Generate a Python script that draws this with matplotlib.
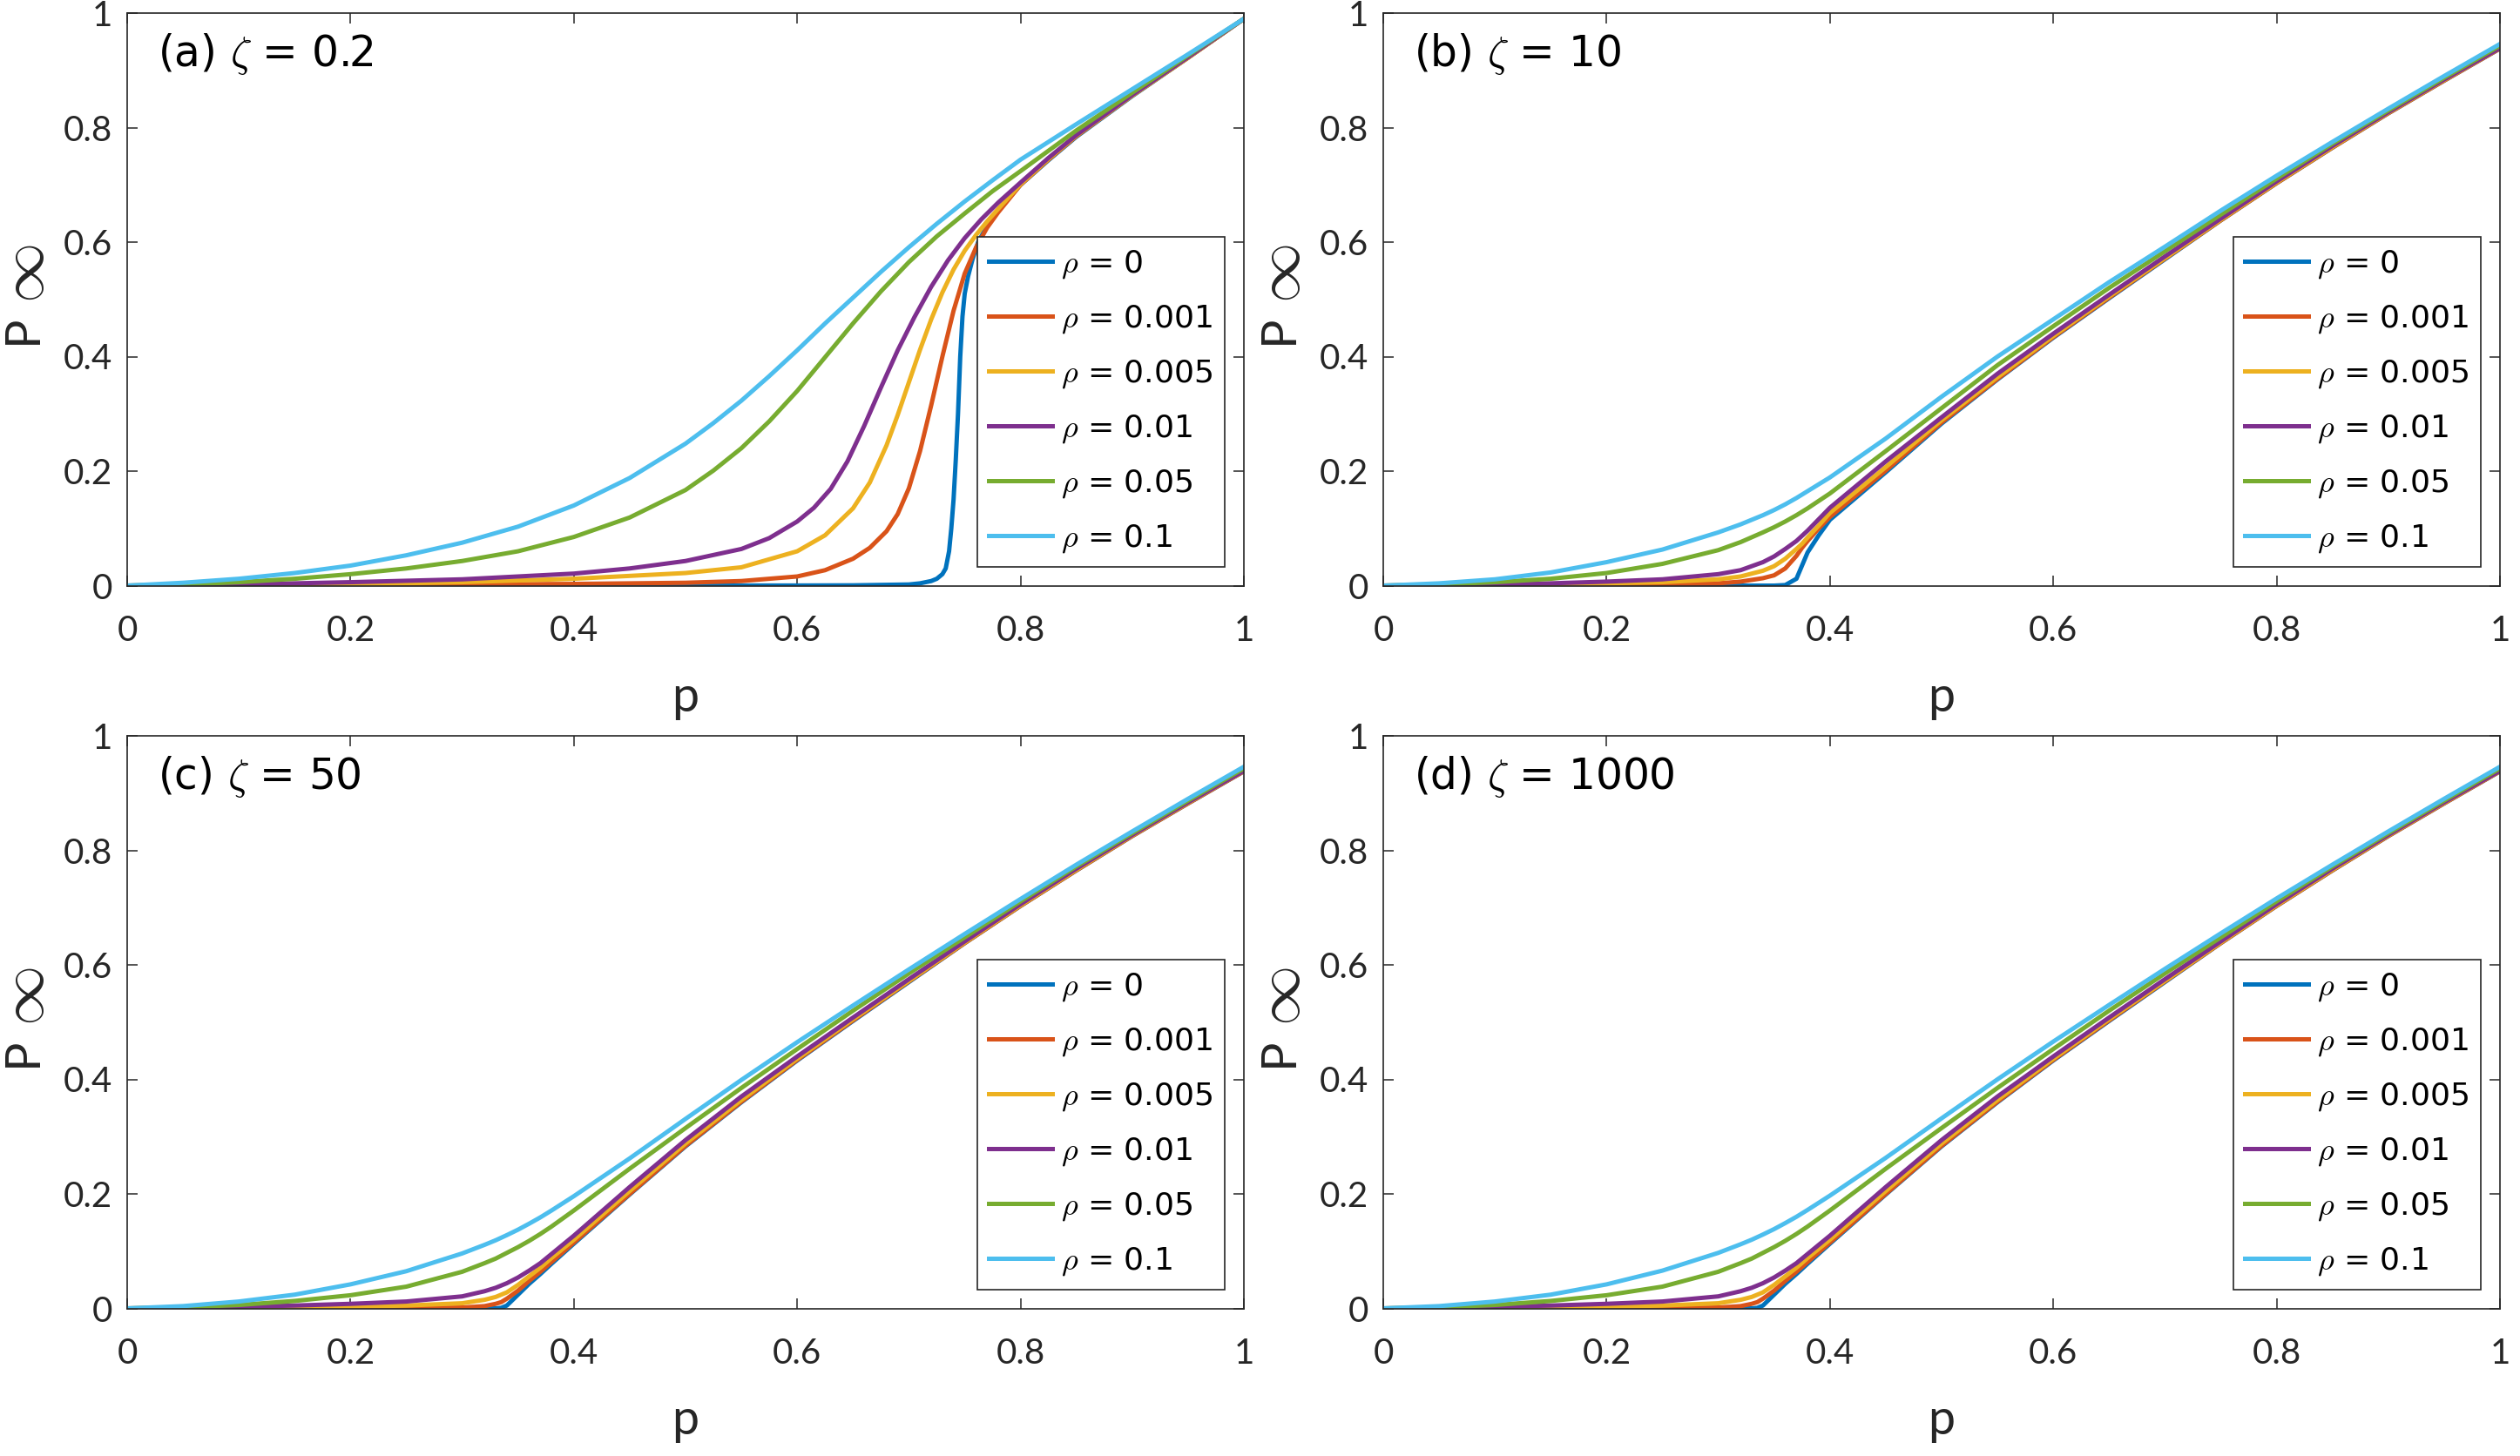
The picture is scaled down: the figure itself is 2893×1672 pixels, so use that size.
import numpy as np
import matplotlib
matplotlib.use("Agg")
import matplotlib.pyplot as plt

plt.rcParams['font.family'] = ['Lato', 'DejaVu Sans']
plt.rcParams['mathtext.fontset'] = 'cm'

# ---------------- data ----------------
SERIES_LABELS = [r'$\rho$ = 0', r'$\rho$ = 0.001', r'$\rho$ = 0.005',
                 r'$\rho$ = 0.01', r'$\rho$ = 0.05', r'$\rho$ = 0.1']
COLORS = ['#0072BD', '#D95319', '#EDB120', '#7E2F8E', '#77AC30', '#4DBEEE']
PANEL_TITLES = [r'(a) $\zeta$ = 0.2', r'(b) $\zeta$ = 10',
                r'(c) $\zeta$ = 50', r'(d) $\zeta$ = 1000']
TICKS = [0, 0.2, 0.4, 0.6, 0.8, 1]
TICK_LABELS = ['0', '0.2', '0.4', '0.6', '0.8', '1']

# panel (a) zeta = 0.2 : each curve has its own p samples
A_P_RHO0 = [0, 0.2, 0.4, 0.6, 0.65, 0.7, 0.71, 0.72, 0.725, 0.73, 0.733, 0.736, 0.738, 0.74,
            0.742, 0.744, 0.746, 0.748, 0.75, 0.753, 0.757, 0.762, 0.77, 0.78, 0.79, 0.8,
            0.825, 0.85, 0.9, 0.95, 1.0]
A_V_RHO0 = [0, 0, 0, 0.0002, 0.0005, 0.002, 0.004, 0.008, 0.012, 0.02, 0.03, 0.06, 0.10, 0.15,
            0.22, 0.30, 0.40, 0.47, 0.51, 0.54, 0.57, 0.60, 0.628, 0.655, 0.678, 0.700,
            0.743, 0.784, 0.855, 0.922, 0.99]
A_P_RHO0001 = [0, 0.2, 0.4, 0.5, 0.55, 0.6, 0.625, 0.65, 0.665, 0.68, 0.69, 0.7, 0.71, 0.72,
               0.73, 0.74, 0.75, 0.76, 0.77, 0.78, 0.8, 0.825, 0.85, 0.9, 0.95, 1.0]
A_V_RHO0001 = [0, 0.0008, 0.003, 0.005, 0.008, 0.016, 0.027, 0.047, 0.066, 0.095, 0.125, 0.17, 0.235, 0.315,
               0.40, 0.48, 0.545, 0.59, 0.625, 0.652, 0.700, 0.744, 0.785, 0.856, 0.922, 0.99]
A_P_RHO0005 = [0, 0.1, 0.2, 0.3, 0.4, 0.5, 0.55, 0.6, 0.625, 0.65, 0.665, 0.68, 0.69, 0.7,
               0.71, 0.72, 0.73, 0.74, 0.75, 0.76, 0.77, 0.78, 0.8, 0.825, 0.85, 0.9, 0.95, 1.0]
A_V_RHO0005 = [0, 0.0008, 0.0025, 0.006, 0.012, 0.022, 0.032, 0.06, 0.088, 0.135, 0.18, 0.245, 0.298, 0.355,
               0.412, 0.465, 0.512, 0.552, 0.585, 0.612, 0.636, 0.658, 0.701, 0.745, 0.786, 0.856, 0.922, 0.99]
A_P_RHO001 = [0, 0.1, 0.2, 0.3, 0.4, 0.45, 0.5, 0.55, 0.575, 0.6, 0.615, 0.63, 0.645, 0.66,
              0.675, 0.69, 0.705, 0.72, 0.735, 0.75, 0.765, 0.78, 0.8, 0.825, 0.85, 0.9, 0.95, 1.0]
A_V_RHO001 = [0, 0.002, 0.006, 0.011, 0.021, 0.03, 0.043, 0.064, 0.083, 0.112, 0.136, 0.169, 0.217, 0.279,
              0.346, 0.411, 0.469, 0.522, 0.568, 0.607, 0.64, 0.669, 0.704, 0.747, 0.787, 0.857, 0.923, 0.99]
A_P_RHO005 = [0, 0.05, 0.1, 0.15, 0.2, 0.25, 0.3, 0.35, 0.4, 0.45, 0.5, 0.525, 0.55, 0.575,
              0.6, 0.625, 0.65, 0.675, 0.7, 0.725, 0.75, 0.775, 0.8, 0.85, 0.9, 0.95, 1.0]
A_V_RHO005 = [0, 0.002, 0.006, 0.012, 0.02, 0.03, 0.043, 0.06, 0.085, 0.119, 0.167, 0.201, 0.24, 0.287,
              0.34, 0.399, 0.458, 0.514, 0.565, 0.61, 0.65, 0.689, 0.724, 0.795, 0.861, 0.926, 0.99]
A_P_RHO01 = [0, 0.05, 0.1, 0.15, 0.2, 0.25, 0.3, 0.35, 0.4, 0.45, 0.5, 0.525, 0.55, 0.575,
             0.6, 0.625, 0.65, 0.675, 0.7, 0.725, 0.75, 0.775, 0.8, 0.85, 0.9, 0.95, 1.0]
A_V_RHO01 = [0, 0.005, 0.012, 0.022, 0.035, 0.053, 0.075, 0.103, 0.14, 0.188, 0.248, 0.284, 0.323, 0.366,
             0.411, 0.458, 0.503, 0.548, 0.591, 0.632, 0.671, 0.708, 0.744, 0.806, 0.867, 0.928, 0.99]

# panel (b) zeta = 10
P_B = [0, 0.05, 0.1, 0.15, 0.2, 0.25, 0.3, 0.32, 0.34, 0.35, 0.36, 0.37, 0.375, 0.38,
       0.39, 0.4, 0.45, 0.5, 0.55, 0.6, 0.65, 0.7, 0.75, 0.8, 0.85, 0.9, 0.95, 1.0]
B_RHO0 = [0, 0, 0, 0, 0, 0, 0, 0, 0, 0, 0.001, 0.012, 0.035, 0.058,
          0.088, 0.115, 0.198, 0.283, 0.36, 0.433, 0.502, 0.57, 0.638, 0.703, 0.765, 0.825, 0.882, 0.938]
B_RHO0001 = [0, 0.0002, 0.0004, 0.0007, 0.001, 0.002, 0.004, 0.007, 0.013, 0.018, 0.03, 0.052, 0.066, 0.078,
             0.10, 0.12, 0.201, 0.285, 0.361, 0.434, 0.503, 0.571, 0.638, 0.703, 0.765, 0.825, 0.882, 0.938]
B_RHO0005 = [0, 0.0005, 0.001, 0.002, 0.004, 0.006, 0.011, 0.016, 0.026, 0.034, 0.047, 0.064, 0.073, 0.084,
             0.105, 0.127, 0.207, 0.289, 0.364, 0.436, 0.505, 0.572, 0.639, 0.704, 0.766, 0.826, 0.883, 0.939]
B_RHO001 = [0, 0.001, 0.002, 0.004, 0.007, 0.011, 0.02, 0.027, 0.041, 0.051, 0.064, 0.078, 0.087, 0.096,
            0.116, 0.136, 0.217, 0.294, 0.37, 0.44, 0.508, 0.575, 0.641, 0.706, 0.768, 0.827, 0.884, 0.939]
B_RHO005 = [0, 0.002, 0.006, 0.012, 0.022, 0.038, 0.062, 0.076, 0.093, 0.102, 0.112, 0.123, 0.129, 0.135,
            0.148, 0.161, 0.235, 0.31, 0.385, 0.453, 0.52, 0.584, 0.648, 0.711, 0.772, 0.83, 0.887, 0.943]
B_RHO01 = [0, 0.004, 0.011, 0.023, 0.041, 0.063, 0.093, 0.107, 0.123, 0.132, 0.142, 0.153, 0.159, 0.165,
           0.177, 0.189, 0.257, 0.33, 0.40, 0.465, 0.53, 0.592, 0.655, 0.716, 0.775, 0.833, 0.89, 0.946]

# panel (c) zeta = 50
P_C = [0, 0.05, 0.1, 0.15, 0.2, 0.25, 0.3, 0.32, 0.33, 0.335, 0.34, 0.35, 0.36, 0.37,
       0.38, 0.4, 0.45, 0.5, 0.55, 0.6, 0.65, 0.7, 0.75, 0.8, 0.85, 0.9, 0.95, 1.0]
C_RHO0 = [0, 0, 0, 0, 0, 0, 0, 0, 0, 0.001, 0.005, 0.024, 0.043, 0.06,
          0.078, 0.113, 0.199, 0.283, 0.36, 0.433, 0.502, 0.57, 0.638, 0.703, 0.765, 0.825, 0.882, 0.938]
C_RHO0001 = [0, 0.0001, 0.0002, 0.0004, 0.0006, 0.0008, 0.0015, 0.004, 0.008, 0.011, 0.017, 0.031, 0.048, 0.064,
             0.081, 0.115, 0.20, 0.284, 0.361, 0.434, 0.503, 0.571, 0.638, 0.703, 0.765, 0.825, 0.882, 0.938]
C_RHO0005 = [0, 0.0005, 0.001, 0.002, 0.003, 0.005, 0.009, 0.015, 0.02, 0.024, 0.028, 0.041, 0.056, 0.071,
             0.088, 0.12, 0.205, 0.288, 0.364, 0.436, 0.505, 0.572, 0.639, 0.704, 0.766, 0.826, 0.883, 0.939]
C_RHO001 = [0, 0.001, 0.003, 0.005, 0.008, 0.012, 0.021, 0.03, 0.036, 0.04, 0.044, 0.054, 0.066, 0.079,
            0.095, 0.127, 0.212, 0.294, 0.37, 0.44, 0.508, 0.575, 0.641, 0.706, 0.768, 0.827, 0.884, 0.939]
C_RHO005 = [0, 0.002, 0.006, 0.013, 0.023, 0.038, 0.064, 0.079, 0.087, 0.092, 0.097, 0.107, 0.118, 0.13,
            0.143, 0.171, 0.244, 0.315, 0.385, 0.453, 0.52, 0.585, 0.648, 0.711, 0.772, 0.83, 0.887, 0.943]
C_RHO01 = [0, 0.004, 0.012, 0.024, 0.042, 0.065, 0.096, 0.111, 0.119, 0.1235, 0.128, 0.1375, 0.148, 0.159,
           0.171, 0.196, 0.262, 0.331, 0.399, 0.465, 0.529, 0.592, 0.654, 0.715, 0.775, 0.833, 0.89, 0.946]

# panel (d) zeta = 1000
P_D = [0, 0.05, 0.1, 0.15, 0.2, 0.25, 0.3, 0.32, 0.33, 0.335, 0.34, 0.35, 0.36, 0.37,
       0.38, 0.4, 0.45, 0.5, 0.55, 0.6, 0.65, 0.7, 0.75, 0.8, 0.85, 0.9, 0.95, 1.0]
D_RHO0 = [0, 0, 0, 0, 0, 0, 0, 0, 0, 0.001, 0.005, 0.024, 0.043, 0.06,
          0.078, 0.113, 0.199, 0.283, 0.36, 0.433, 0.502, 0.57, 0.638, 0.703, 0.765, 0.825, 0.882, 0.938]
D_RHO0001 = [0, 0.0001, 0.0002, 0.0004, 0.0006, 0.0008, 0.0015, 0.004, 0.008, 0.011, 0.017, 0.031, 0.048, 0.064,
             0.081, 0.115, 0.20, 0.284, 0.361, 0.434, 0.503, 0.571, 0.638, 0.703, 0.765, 0.825, 0.882, 0.938]
D_RHO0005 = [0, 0.0005, 0.001, 0.002, 0.003, 0.005, 0.009, 0.015, 0.02, 0.024, 0.028, 0.041, 0.056, 0.071,
             0.088, 0.12, 0.205, 0.288, 0.364, 0.436, 0.505, 0.572, 0.639, 0.704, 0.766, 0.826, 0.883, 0.939]
D_RHO001 = [0, 0.001, 0.003, 0.005, 0.008, 0.012, 0.021, 0.03, 0.036, 0.04, 0.044, 0.054, 0.066, 0.079,
            0.095, 0.127, 0.212, 0.294, 0.37, 0.44, 0.508, 0.575, 0.641, 0.706, 0.768, 0.827, 0.884, 0.939]
D_RHO005 = [0, 0.002, 0.006, 0.013, 0.023, 0.038, 0.064, 0.079, 0.087, 0.092, 0.097, 0.107, 0.118, 0.13,
            0.143, 0.171, 0.244, 0.315, 0.385, 0.453, 0.52, 0.585, 0.648, 0.711, 0.772, 0.83, 0.887, 0.943]
D_RHO01 = [0, 0.004, 0.012, 0.024, 0.042, 0.066, 0.097, 0.112, 0.12, 0.1245, 0.129, 0.1385, 0.149, 0.16,
           0.172, 0.197, 0.263, 0.332, 0.4, 0.466, 0.53, 0.593, 0.655, 0.716, 0.775, 0.833, 0.89, 0.946]

PANELS = [
    [(A_P_RHO0, A_V_RHO0), (A_P_RHO0001, A_V_RHO0001), (A_P_RHO0005, A_V_RHO0005),
     (A_P_RHO001, A_V_RHO001), (A_P_RHO005, A_V_RHO005), (A_P_RHO01, A_V_RHO01)],
    [(P_B, v) for v in (B_RHO0, B_RHO0001, B_RHO0005, B_RHO001, B_RHO005, B_RHO01)],
    [(P_C, v) for v in (C_RHO0, C_RHO0001, C_RHO0005, C_RHO001, C_RHO005, C_RHO01)],
    [(P_D, v) for v in (D_RHO0, D_RHO0001, D_RHO0005, D_RHO001, D_RHO005, D_RHO01)],
]

# ---------------- layout ----------------
W, H = 2893, 1672
fig = plt.figure(figsize=(W / 100, H / 100), dpi=100)
ax_w, ax_h = 1282 / W, 657.5 / H
positions = [
    [146 / W, 1 - 672.5 / H, ax_w, ax_h],
    [1588 / W, 1 - 672.5 / H, ax_w, ax_h],
    [146 / W, 1 - 1502.5 / H, ax_w, ax_h],
    [1588 / W, 1 - 1502.5 / H, ax_w, ax_h],
]
EDGE = '#262626'

for i, (pos, curves) in enumerate(zip(positions, PANELS)):
    ax = fig.add_axes(pos)
    for (pgrid, vals), col, lab in zip(curves, COLORS, SERIES_LABELS):
        ax.plot(pgrid, vals, color=col, lw=3.6, label=lab)
    ax.set_xlim(0, 1)
    ax.set_ylim(0, 1)
    ax.set_xticks(TICKS)
    ax.set_xticklabels(TICK_LABELS)
    ax.set_yticks(TICKS)
    ax.set_yticklabels(TICK_LABELS)
    for sp in ax.spines.values():
        sp.set_linewidth(1.2)
        sp.set_color(EDGE)
    ax.tick_params(axis='both', which='both', direction='in', length=8.5,
                   width=1.1, color=EDGE, top=True, right=True,
                   labelsize=29, labelcolor=EDGE)
    ax.tick_params(axis='x', pad=24)
    ax.tick_params(axis='y', pad=12)
    ax.set_xlabel('p', fontsize=40, color=EDGE, labelpad=24)
    # y label "P ∞" (P in text font, larger infinity sign)
    ax.text(-0.093, 0.447, 'P', transform=ax.transAxes, rotation=90,
            fontsize=40, color=EDGE, ha='center', va='center')
    ax.text(-0.090, 0.545, r'$\infty$', transform=ax.transAxes, rotation=90,
            fontsize=50, color=EDGE, ha='center', va='center')
    ax.text(0.027, 0.907, PANEL_TITLES[i], transform=ax.transAxes,
            fontsize=35, color='black', va='baseline', ha='left',
            family=['DejaVu Sans'])
    leg = ax.legend(loc='lower right', frameon=True, fancybox=False,
                    prop={'family': ['DejaVu Sans'], 'size': 26},
                    framealpha=1, edgecolor=EDGE, borderaxespad=0.6,
                    handlelength=2.0, handletextpad=0.3, labelspacing=0.72,
                    borderpad=0.38)
    leg.get_frame().set_linewidth(1.2)
    for line in leg.get_lines():
        line.set_linewidth(3.6)

fig.savefig('out.png', dpi=100)
